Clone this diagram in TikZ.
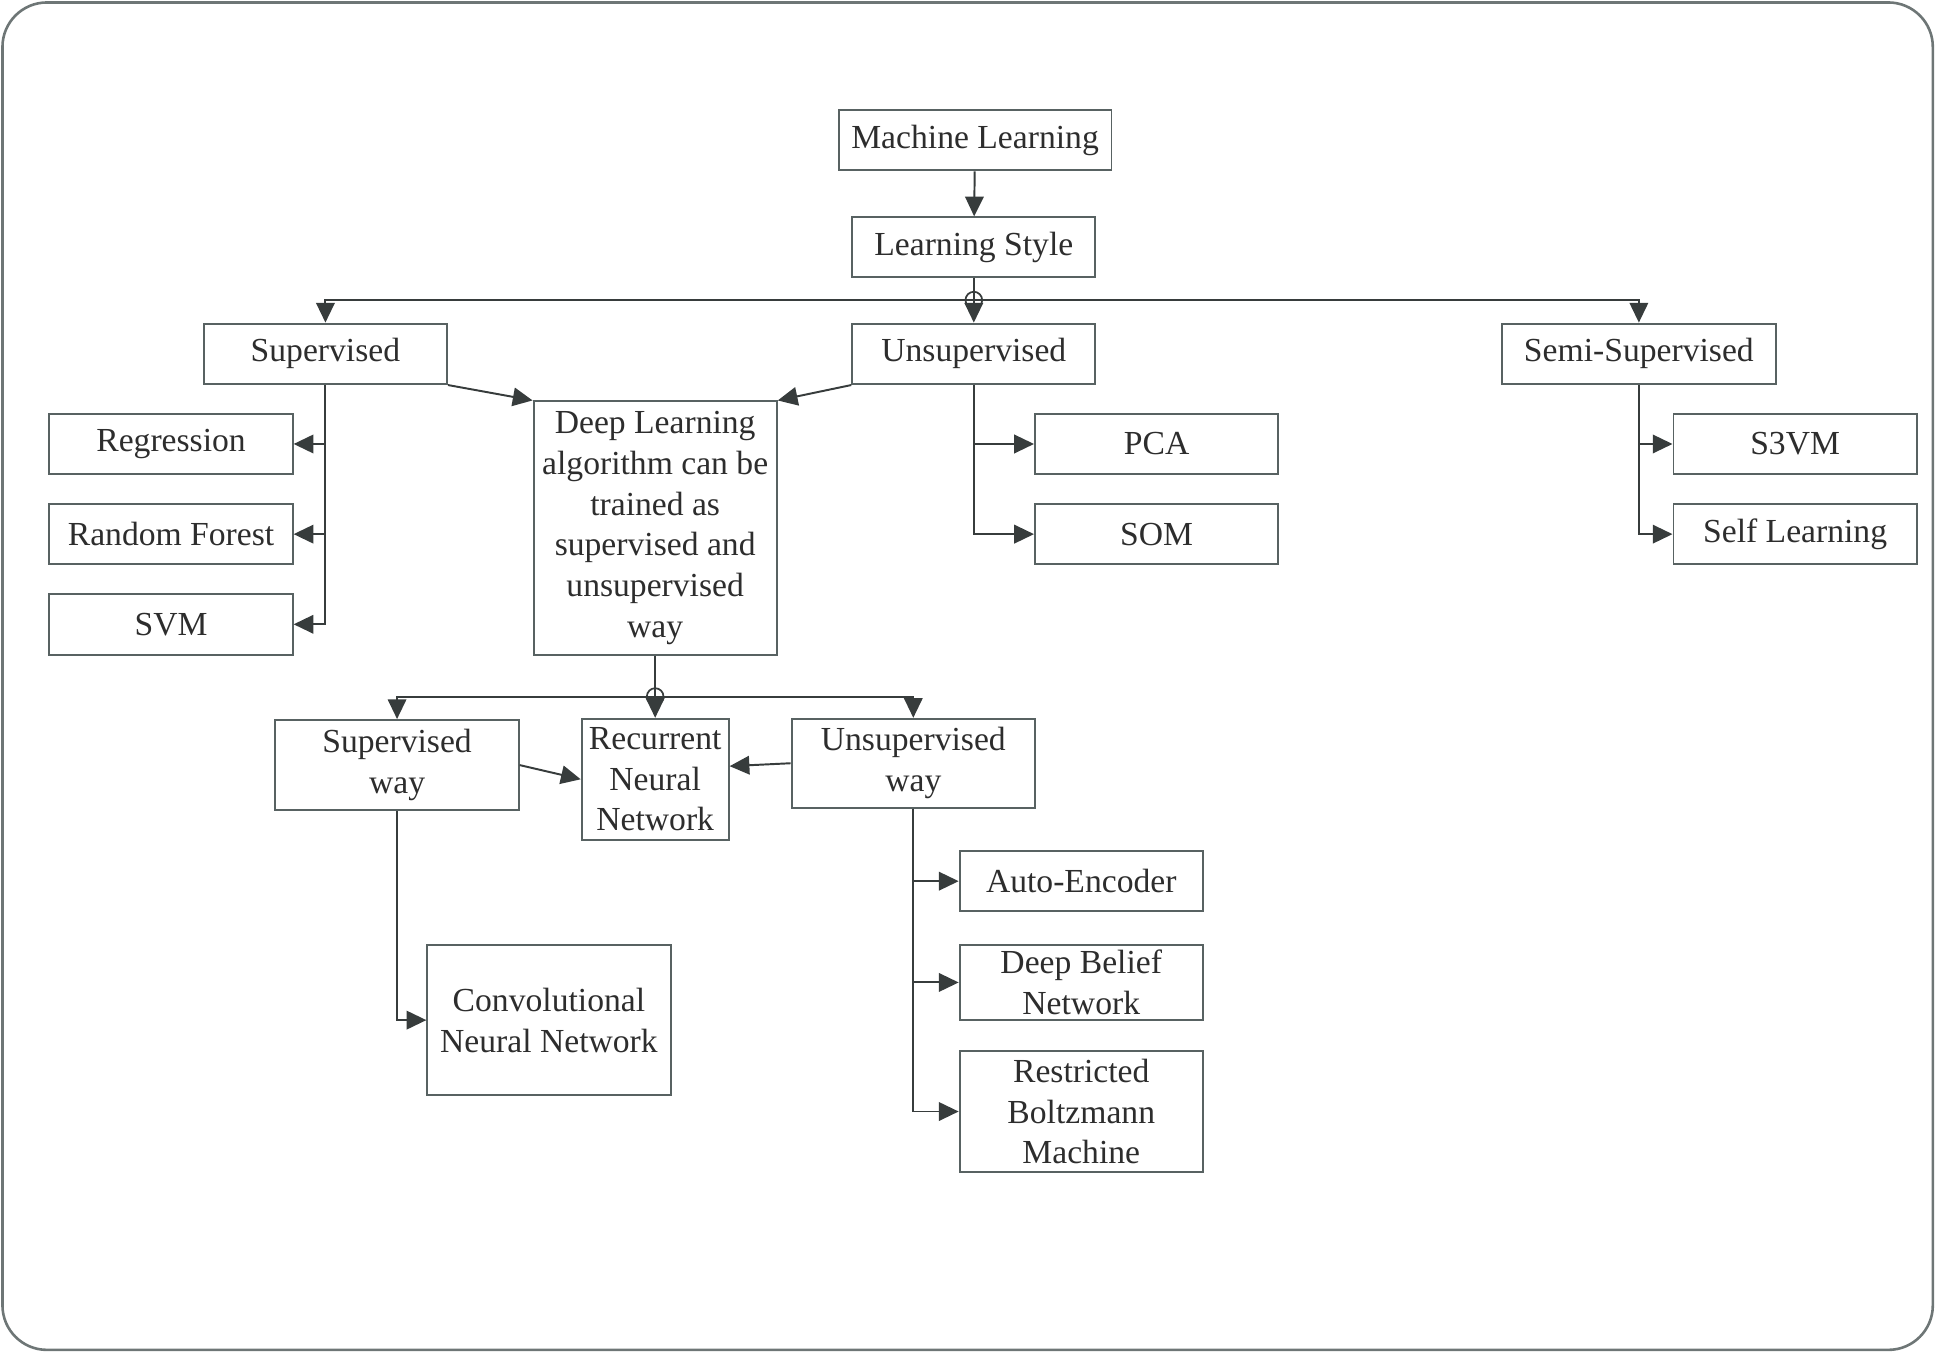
\documentclass[tikz,border=0pt]{standalone}
\usepackage{fontspec}
\setmainfont{Liberation Serif}
\usetikzlibrary{arrows.meta}
\definecolor{boxline}{RGB}{88,98,98}
\definecolor{linkline}{RGB}{55,60,60}
\definecolor{textgray}{RGB}{45,45,45}
\definecolor{framegray}{RGB}{110,118,118}
\tikzset{
	boxstyle/.style={rectangle,draw=boxline,fill=white,text=textgray,align=center,inner sep=0pt,line width=0.9pt,minimum width=3.94cm,minimum height=0.98cm,font=\fontsize{15.5}{18.8}\selectfont},
	linkstyle/.style={draw=linkline,line width=0.9pt},
	arrowstyle/.style={linkstyle,-{Triangle[length=0.32cm,width=0.3cm]}},
	hubstyle/.style={circle,draw=linkline,line width=0.8pt,inner sep=0pt,minimum size=0.27cm}
}
\begin{document}
\begin{tikzpicture}[x=0.02cm,y=-0.02cm]
		\useasboundingbox (0,0) rectangle (1567.6,1095.5);
		\draw[draw=framegray,line width=1.2pt,rounded corners=0.72cm] (2,2) rectangle (1565,1093);
		\node[boxstyle,minimum width=4.42cm] (ml) at (789.5,113.5) {Machine Learning};
		\node[boxstyle,minimum height=0.96cm] (ls) at (788.5,200) {Learning Style};
		\node[boxstyle] (sup) at (263.5,286.5) {Supervised};
		\node[boxstyle] (uns) at (788.5,286.5) {Unsupervised};
		\node[boxstyle,minimum width=4.44cm] (semi) at (1327,286.5) {Semi-Supervised};
		\node[boxstyle,minimum height=4.1cm] (dl) at (530.5,427.5) {Deep Learning\\algorithm can be\\trained as\\supervised and\\unsupervised\\way};
		\node[boxstyle] (reg) at (138.5,359.5) {Regression};
		\node[boxstyle] (rf) at (138.5,432.5) {Random Forest};
		\node[boxstyle] (svm) at (138.5,505.5) {SVM};
		\node[boxstyle] (pca) at (936.5,359.5) {PCA};
		\node[boxstyle] (som) at (936.5,432.5) {SOM};
		\node[boxstyle] (s3vm) at (1453.5,359.5) {S3VM};
		\node[boxstyle] (self) at (1453.5,432.5) {Self Learning};
		\node[boxstyle,minimum height=1.46cm] (sw) at (321.5,619.5) {Supervised\\way};
		\node[boxstyle,minimum width=2.38cm,minimum height=1.96cm] (rnn) at (530.5,631) {Recurrent\\Neural\\Network};
		\node[boxstyle,minimum height=1.44cm] (uw) at (739.5,618) {Unsupervised\\way};
		\node[boxstyle,minimum height=2.44cm] (cnn) at (444.5,826) {Convolutional\\Neural Network};
		\node[boxstyle] (ae) at (875.5,713.5) {Auto-Encoder};
		\node[boxstyle,minimum height=1.22cm] (dbn) at (875.5,795.5) {Deep Belief\\Network};
		\node[boxstyle,minimum height=1.96cm] (rbm) at (875.5,900) {Restricted\\Boltzmann\\Machine};
		\node[hubstyle] (hub1) at (788.5,243) {};
		\node[hubstyle] (hub2) at (530.5,564) {};
		\draw[arrowstyle] (ml) -- (ls);
		\draw[linkstyle] (ls) -- (hub1.center);
		\draw[arrowstyle] (hub1.center) -| (sup);
		\draw[arrowstyle] (hub1.center) -- (uns);
		\draw[arrowstyle] (hub1.center) -| (semi);
		\draw[arrowstyle] (sup.south east) -- (dl.north west);
		\draw[arrowstyle] (uns.south west) -- (dl.north east);
		\draw[arrowstyle] (sup) |- (reg);
		\draw[arrowstyle] (sup) |- (rf);
		\draw[arrowstyle] (sup) |- (svm);
		\draw[arrowstyle] (uns) |- (pca);
		\draw[arrowstyle] (uns) |- (som);
		\draw[arrowstyle] (semi) |- (s3vm);
		\draw[arrowstyle] (semi) |- (self);
		\draw[linkstyle] (dl) -- (hub2.center);
		\draw[arrowstyle] (hub2.center) -| (sw);
		\draw[arrowstyle] (hub2.center) -- (rnn);
		\draw[arrowstyle] (hub2.center) -| (uw);
		\draw[arrowstyle] (sw.east) -- (rnn.west);
		\draw[arrowstyle] (uw.west) -- (rnn.10);
		\draw[arrowstyle] (sw) |- (cnn);
		\draw[arrowstyle] (uw) |- (ae);
		\draw[arrowstyle] (uw) |- (dbn);
		\draw[arrowstyle] (uw) |- (rbm);
\end{tikzpicture}
\end{document}
